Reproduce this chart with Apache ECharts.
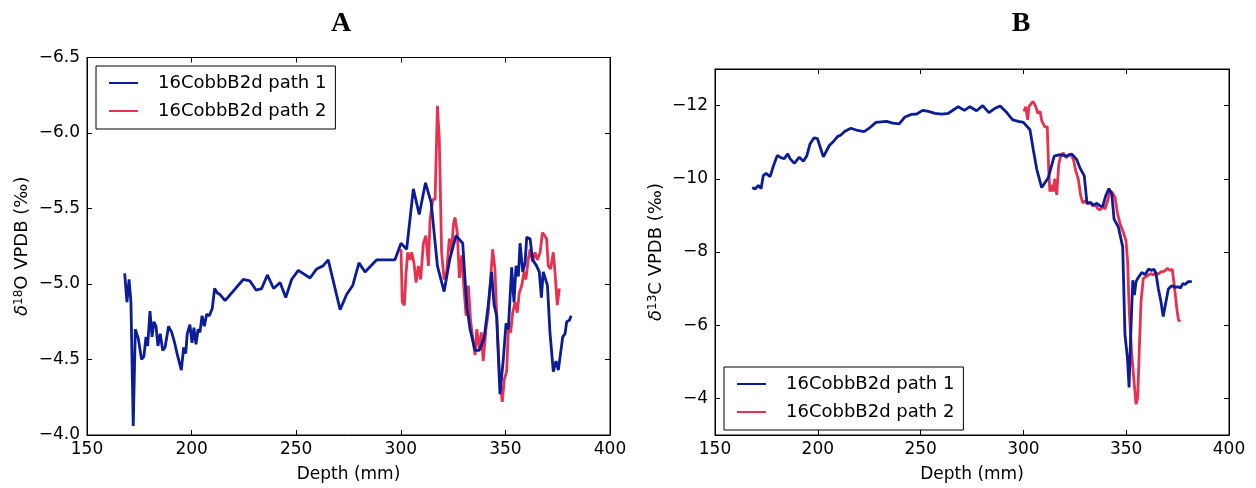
<!DOCTYPE html>
<html>
<head>
<meta charset="utf-8">
<script src="https://cdn.jsdelivr.net/npm/echarts@6/dist/echarts.min.js"></script>
<style>
  html, body { margin: 0; padding: 0; background: #fff; }
  #chart { width: 1256px; height: 488px; }
</style>
</head>
<body>
<div id="chart"></div>
<script>
// Panel A: delta 18O along depth, two sampling paths
const depthA1 = [168.0,169.1,170.1,171.0,172.1,173.1,174.5,176.1,177.2,178.2,179.0,180.1,181.1,182.0,183.0,183.9,185.0,186.2,187.3,189.0,190.5,191.9,193.2,194.1,195.1,196.2,197.2,197.9,199.2,200.2,201.1,202.1,203.1,204.0,205.0,206.1,207.2,208.5,209.9,211.0,212.3,213.6,216.0,224.7,227.9,230.8,233.5,236.2,239.2,242.3,245.0,247.8,251.0,256.6,259.8,262.8,265.3,271.0,274.1,277.0,280.0,282.9,288.5,291.6,297.2,300.1,302.8,306.0,308.8,311.8,314.5,317.5,320.7,323.5,326.4,329.6,331.5,333.1,335.5,337.5,339.8,341.8,343.4,344.6,345.8,347.4,349.0,350.3,351.4,353.0,354.1,355.1,356.2,357.0,358.3,359.4,360.2,361.8,363.0,364.9,366.2,367.2,368.1,370.1,371.3,372.9,374.2,375.3,377.4,378.5,379.3,380.6,381.4];
const d18OA1 = [-5.07,-4.88,-5.03,-4.88,-4.06,-4.70,-4.64,-4.50,-4.52,-4.65,-4.59,-4.82,-4.65,-4.75,-4.72,-4.59,-4.67,-4.56,-4.58,-4.72,-4.68,-4.61,-4.53,-4.54,-4.43,-4.58,-4.54,-4.67,-4.73,-4.61,-4.71,-4.60,-4.70,-4.68,-4.79,-4.72,-4.80,-4.79,-4.84,-4.97,-4.94,-4.93,-4.89,-5.03,-5.02,-4.96,-4.97,-5.06,-4.97,-5.01,-4.91,-5.03,-5.09,-5.04,-5.10,-5.12,-5.16,-4.83,-4.93,-4.99,-5.14,-5.08,-5.16,-5.16,-5.16,-5.27,-5.23,-5.63,-5.46,-5.67,-5.54,-5.12,-4.95,-5.17,-5.32,-5.27,-4.86,-4.70,-4.56,-4.56,-4.64,-4.86,-5.08,-4.86,-4.79,-4.27,-4.50,-4.74,-4.70,-5.11,-4.88,-5.12,-5.05,-5.27,-5.08,-5.14,-5.31,-5.30,-5.16,-5.12,-5.08,-4.91,-5.08,-4.99,-4.68,-4.42,-4.49,-4.43,-4.65,-4.67,-4.75,-4.76,-4.79];

const depthA2 = [300.1,300.7,301.7,302.5,303.3,304.4,305.2,306.3,307.3,308.4,309.5,310.8,312.0,313.2,314.0,315.3,316.4,317.5,318.4,319.5,320.7,321.9,323.2,324.3,325.1,325.9,327.0,328.0,329.1,330.2,331.2,332.3,333.4,334.4,335.5,336.3,337.5,338.5,339.4,340.7,341.8,342.9,343.9,345.0,345.8,347.1,348.5,349.5,350.6,351.4,352.5,353.5,354.6,355.7,356.6,357.8,358.9,359.8,360.9,361.8,363.0,364.2,365.3,366.6,367.7,368.8,369.7,370.5,371.6,372.9,373.7,374.8,375.8];
const d18OA2 = [-5.23,-4.88,-4.86,-5.07,-5.21,-5.16,-5.21,-5.14,-5.01,-5.12,-5.03,-5.27,-5.32,-5.12,-5.43,-5.56,-5.56,-6.18,-5.96,-5.21,-5.03,-5.08,-5.30,-5.21,-5.39,-5.44,-5.34,-5.04,-5.19,-4.97,-4.79,-4.99,-4.75,-4.64,-4.53,-4.70,-4.57,-4.68,-4.49,-4.70,-4.81,-5.03,-5.23,-5.10,-4.81,-4.42,-4.22,-4.37,-4.42,-4.70,-4.68,-4.81,-4.88,-4.81,-4.94,-4.99,-5.08,-5.03,-5.16,-5.23,-5.15,-5.21,-5.16,-5.21,-5.34,-5.32,-5.30,-5.12,-5.10,-5.21,-5.08,-4.86,-4.97];

// Panel B: delta 13C along depth, two sampling paths
const depthB1 = [168.1,169.5,171.1,172.4,173.5,174.8,176.8,178.4,180.3,182.0,183.7,185.4,186.5,188.6,191.0,193.0,194.6,196.2,198.2,199.8,202.7,205.6,207.6,209.7,211.1,213.2,216.1,219.4,222.5,225.4,228.3,233.5,236.4,239.6,242.4,245.6,248.1,251.0,253.8,257.0,260.3,263.5,265.9,268.3,271.3,274.0,277.2,280.2,283.2,286.0,288.7,291.9,294.8,297.5,300.0,303.2,304.8,306.5,308.9,312.1,315.0,317.8,321.1,323.5,325.9,327.5,329.6,330.9,333.0,334.1,335.7,337.3,338.6,340.0,341.6,343.0,344.1,346.2,348.3,349.4,350.6,351.4,352.2,353.2,354.0,354.8,355.6,357.6,359.2,360.8,362.4,363.5,364.5,365.6,366.9,368.0,369.2,370.5,372.1,373.7,375.3,376.5,377.5,378.6,380.2,381.9];
const d13CB1 = [-9.76,-9.72,-9.82,-9.73,-10.09,-10.15,-10.06,-10.35,-10.64,-10.58,-10.55,-10.68,-10.55,-10.42,-10.59,-10.48,-10.62,-10.95,-11.12,-11.10,-10.60,-10.91,-11.02,-11.16,-11.19,-11.30,-11.38,-11.32,-11.29,-11.40,-11.54,-11.57,-11.52,-11.50,-11.69,-11.76,-11.77,-11.87,-11.84,-11.79,-11.77,-11.79,-11.88,-11.97,-11.87,-11.97,-11.86,-12.00,-11.81,-11.92,-11.99,-11.81,-11.61,-11.57,-11.54,-11.34,-10.80,-10.26,-9.76,-10.03,-10.62,-10.66,-10.62,-10.68,-10.53,-10.30,-10.08,-9.34,-9.34,-9.28,-9.33,-9.26,-9.25,-9.53,-9.73,-9.58,-8.90,-8.68,-8.14,-5.74,-5.11,-4.30,-5.74,-7.23,-6.82,-7.19,-7.28,-7.44,-7.38,-7.53,-7.50,-7.53,-7.41,-7.01,-6.64,-6.24,-6.60,-6.99,-7.08,-7.04,-7.05,-7.02,-7.14,-7.11,-7.19,-7.19];

const depthB2 = [300.3,301.1,302.1,302.7,303.7,304.8,306.0,307.0,308.1,308.9,309.7,310.5,311.6,312.3,312.9,313.8,314.5,315.2,316.2,317.2,318.1,319.4,320.8,322.1,323.2,324.3,325.5,326.7,327.9,328.9,330.0,331.3,332.4,333.7,334.8,336.1,337.3,338.6,339.7,341.0,342.1,343.2,344.6,345.7,347.0,348.6,349.9,350.7,351.5,352.7,353.8,354.8,355.6,356.4,357.2,358.3,359.5,360.8,361.9,363.2,364.3,365.6,366.9,368.4,370.0,371.3,372.4,373.4,374.6,375.4,376.2];
const d13CB2 = [-11.84,-11.97,-11.61,-11.97,-12.05,-12.11,-11.97,-11.79,-11.84,-11.59,-11.57,-11.41,-11.43,-10.26,-9.65,-9.83,-9.65,-10.00,-9.56,-10.39,-10.62,-10.71,-10.57,-10.66,-10.66,-10.53,-10.21,-9.99,-9.53,-9.34,-9.40,-9.31,-9.37,-9.26,-9.31,-9.19,-9.15,-9.26,-9.17,-9.40,-9.67,-9.63,-9.49,-9.08,-8.77,-8.54,-8.31,-7.73,-6.37,-5.20,-4.48,-3.84,-4.02,-5.38,-6.64,-7.28,-7.32,-7.37,-7.41,-7.37,-7.44,-7.39,-7.46,-7.47,-7.55,-7.50,-7.53,-7.09,-6.46,-6.15,-6.10];

const depthTicks = [150, 200, 250, 300, 350, 400];
const seriesNames = ['16CobbB2d path 1', '16CobbB2d path 2'];
const panelTitles = ['A', 'B'];

const BLUE = '#0a1c98';
const RED = '#e8304f';
const FONT = 'DejaVu Sans';
const LW = 2.8;

const zip = (xs, ys) => xs.map((x, i) => [x, ys[i]]);
const minus = v => String(v).replace('-', '\u2212');

function bottomAxis(grid) {
  return {
    type: 'value', gridIndex: grid, position: 'bottom',
    min: depthTicks[0], max: depthTicks[depthTicks.length - 1], interval: 50,
    name: 'Depth (mm)', nameLocation: 'middle', nameGap: 31,
    nameTextStyle: { fontFamily: FONT, fontSize: 17, color: '#000' },
    axisLine: { show: true, lineStyle: { color: '#000', width: 1 } },
    axisTick: { show: true, inside: true, length: 5, lineStyle: { color: '#000' } },
    axisLabel: { fontFamily: FONT, fontSize: 17, color: '#000', margin: 6 },
    splitLine: { show: false }
  };
}
function topAxis(grid) {
  return {
    type: 'value', gridIndex: grid, position: 'top',
    min: depthTicks[0], max: depthTicks[depthTicks.length - 1], interval: 50,
    axisLine: { show: true, lineStyle: { color: '#000', width: 1 } },
    axisTick: { show: true, inside: true, length: 5, lineStyle: { color: '#000' } },
    axisLabel: { show: false }, splitLine: { show: false }
  };
}
function valueAxis(grid, pos, min, max, opts) {
  return Object.assign({
    type: 'value', gridIndex: grid, position: pos, inverse: true,
    min: min, max: max,
    axisLine: { show: true, lineStyle: { color: '#000', width: 1 } },
    axisTick: { show: true, inside: true, length: 5, lineStyle: { color: '#000' } },
    axisLabel: { show: false },
    splitLine: { show: false }
  }, opts || {});
}

const ylabelRich = {
  d: { fontFamily: FONT, fontSize: 18, fontStyle: 'italic', color: '#000' },
  s: { fontFamily: FONT, fontSize: 12, color: '#000', verticalAlign: 'top', lineHeight: 12, padding: [0, 0, 9, 0] },
  t: { fontFamily: FONT, fontSize: 18, color: '#000' }
};

function legendAt(left, top) {
  return {
    data: seriesNames, left: left, top: top, orient: 'vertical',
    backgroundColor: '#fff', borderColor: '#000', borderWidth: 1, borderRadius: 0,
    padding: [8, 9, 9, 12], itemWidth: 29, itemHeight: 18, itemGap: 10,
    itemStyle: { opacity: 0 },
    textStyle: { fontFamily: FONT, fontSize: 18, color: '#000', padding: [0, 0, 0, 15] }
  };
}

const chart = echarts.init(document.getElementById('chart'), null, { renderer: 'canvas' });
chart.setOption({
  animation: false,
  backgroundColor: '#fff',
  title: [
    { text: panelTitles[0], left: 336, top: 5, textAlign: 'center',
      textStyle: { fontFamily: 'Liberation Serif', fontWeight: 'bold', fontSize: 28, color: '#000' } },
    { text: panelTitles[1], left: 1016, top: 5, textAlign: 'center',
      textStyle: { fontFamily: 'Liberation Serif', fontWeight: 'bold', fontSize: 28, color: '#000' } }
  ],
  grid: [
    { left: 87, right: 646, top: 57.5, bottom: 51.5, show: true, borderColor: '#000', borderWidth: 1, backgroundColor: '#fff' },
    { left: 715, right: 27, top: 69, bottom: 50.5, show: true, borderColor: '#000', borderWidth: 1, backgroundColor: '#fff' }
  ],
  legend: [legendAt(96, 66), legendAt(724, 367)],
  xAxis: [bottomAxis(0), topAxis(0), bottomAxis(1), topAxis(1)],
  yAxis: [
    valueAxis(0, 'left', -6.5, -4.0, {
      interval: 0.5,
      name: '{d|\u03b4}{s|18}{t|O VPDB (\u2030)}', nameLocation: 'middle', nameGap: 56, nameRotate: 90,
      nameTextStyle: { rich: ylabelRich },
      axisLabel: { show: true, fontFamily: FONT, fontSize: 17, color: '#000', margin: 7,
        formatter: v => minus(v.toFixed(1)) }
    }),
    valueAxis(0, 'right', -6.5, -4.0, { interval: 0.5 }),
    valueAxis(1, 'left', -13, -3, {
      splitNumber: 5,
      name: '{d|\u03b4}{s|13}{t|C VPDB (\u2030)}', nameLocation: 'middle', nameGap: 50, nameRotate: 90,
      nameTextStyle: { rich: ylabelRich },
      axisLabel: { show: true, fontFamily: FONT, fontSize: 17, color: '#000', margin: 7,
        showMinLabel: false, showMaxLabel: false,
        formatter: v => minus(v) }
    }),
    valueAxis(1, 'right', -13, -3, { splitNumber: 5 })
  ],
  series: [
    { name: seriesNames[0], type: 'line', xAxisIndex: 0, yAxisIndex: 0, data: zip(depthA1, d18OA1),
      symbol: 'none', lineStyle: { color: BLUE, width: LW }, itemStyle: { color: BLUE }, z: 3 },
    { name: seriesNames[1], type: 'line', xAxisIndex: 0, yAxisIndex: 0, data: zip(depthA2, d18OA2),
      symbol: 'none', lineStyle: { color: RED, width: LW }, itemStyle: { color: RED }, z: 2 },
    { name: seriesNames[0], type: 'line', xAxisIndex: 2, yAxisIndex: 2, data: zip(depthB1, d13CB1),
      symbol: 'none', lineStyle: { color: BLUE, width: LW }, itemStyle: { color: BLUE }, z: 3 },
    { name: seriesNames[1], type: 'line', xAxisIndex: 2, yAxisIndex: 2, data: zip(depthB2, d13CB2),
      symbol: 'none', lineStyle: { color: RED, width: LW }, itemStyle: { color: RED }, z: 2 }
  ]
});
</script>
</body>
</html>
